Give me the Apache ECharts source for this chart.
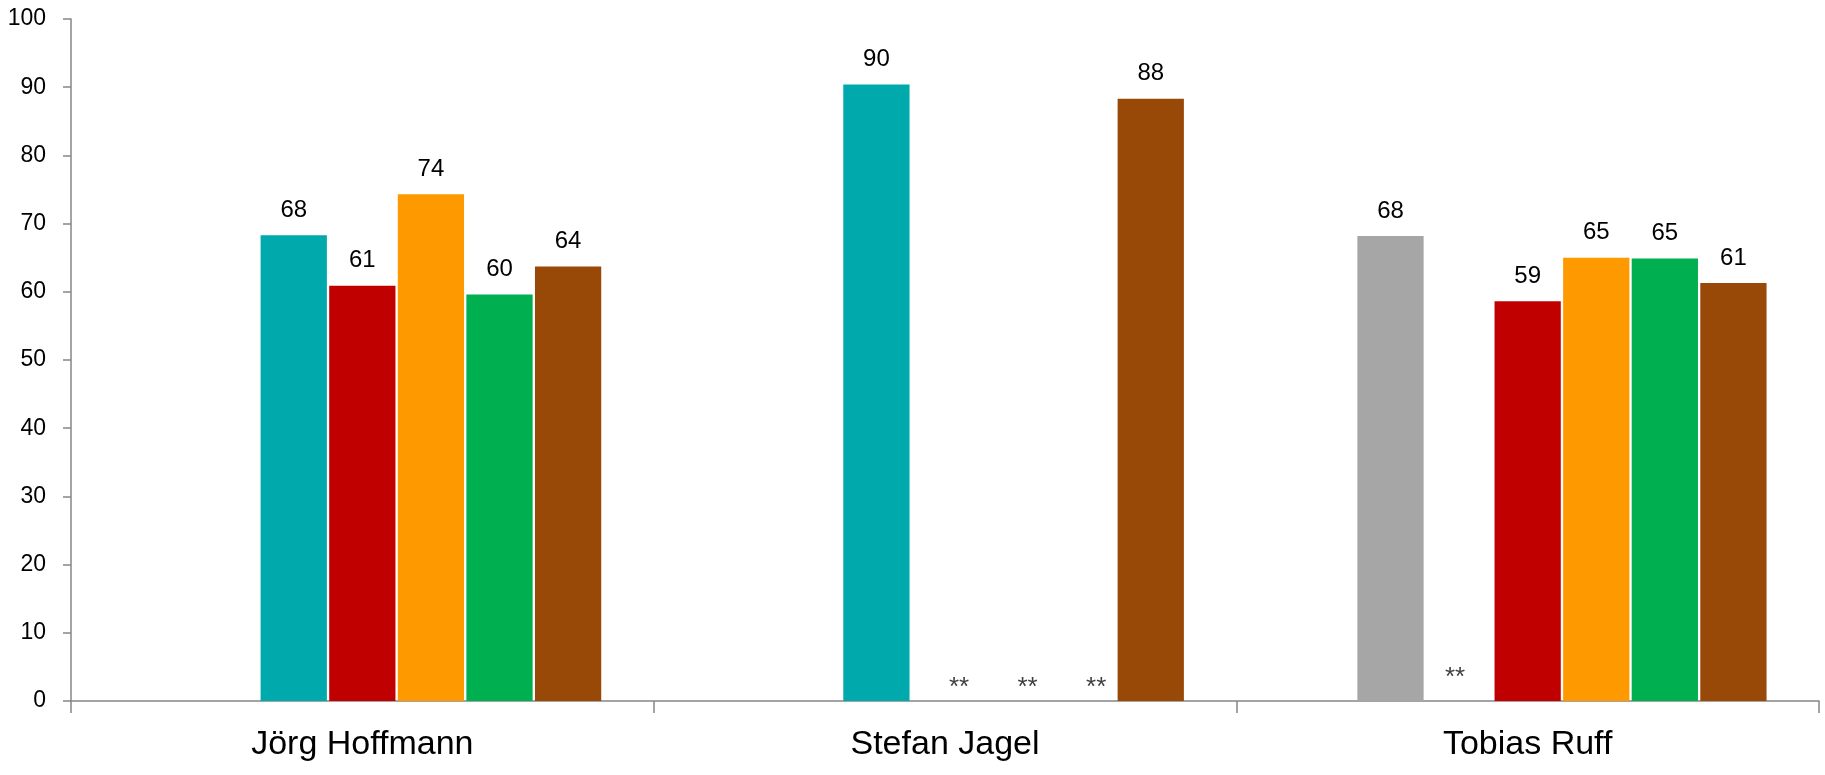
<!DOCTYPE html>
<html>
<head>
<meta charset="utf-8">
<script src="https://cdn.jsdelivr.net/npm/echarts@6/dist/echarts.min.js"></script>
<style>
  html, body { margin: 0; padding: 0; background: #ffffff; }
  #chart { width: 1825px; height: 775px; }
</style>
</head>
<body>
<div id="chart"></div>
<script>
// ---- data ----
const categories = ['Jörg Hoffmann', 'Stefan Jagel', 'Tobias Ruff'];
const yTicks = [0, 10, 20, 30, 40, 50, 60, 70, 80, 90, 100];

// seven series (the first one carries no values in any group)
const seriesNames = ['Serie 1', 'Serie 2', 'Serie 3', 'Serie 4', 'Serie 5', 'Serie 6', 'Serie 7'];
const serie1 = [null, null, null];
const serie2 = [null, null, 68.2];      // grey
const serie3 = [68.3, 90.4, null];      // teal
const serie4 = [60.9, null, 58.6];      // red
const serie5 = [74.3, null, 65.0];      // orange
const serie6 = [59.6, null, 64.9];      // green
const serie7 = [63.7, 88.3, 61.3];      // brown

// "**" markers for values that are not reported
const marks1 = ['', '', ''];
const marks2 = ['', '', ''];
const marks3 = ['', '', '**'];
const marks4 = ['', '**', ''];
const marks5 = ['', '**', ''];
const marks6 = ['', '**', ''];
const marks7 = ['', '', ''];

// ---- styling ----
const colors = ['#7f7f7f', '#A6A6A6', '#00A9AC', '#C00000', '#FF9900', '#00B050', '#984807'];
const numFont = "'Liberation Sans Narrow', 'Arial Narrow', 'Liberation Sans', Arial, sans-serif";
const catFont = "'Liberation Sans', Arial, sans-serif";
const markOffsets = [[14, 0], [14, 0], [-4, -10]]; // per category

const allValues = [serie1, serie2, serie3, serie4, serie5, serie6, serie7];
const allMarks = [marks1, marks2, marks3, marks4, marks5, marks6, marks7];

const series = allValues.map((vals, si) => ({
  name: seriesNames[si],
  type: 'bar',
  barGap: '3.5%',
  barCategoryGap: '18%',
  itemStyle: { color: colors[si] },
  label: {
    show: true,
    position: 'top',
    distance: 13,
    color: '#000000',
    fontFamily: numFont,
    fontSize: 24,
    formatter: p => (p.value == null ? '' : String(Math.round(p.value)))
  },
  data: vals.map((v, ci) => {
    const m = allMarks[si][ci];
    if (v == null && m) {
      return {
        value: 0,
        label: {
          formatter: m,
          distance: 0,
          offset: markOffsets[ci],
          color: '#404040',
          fontFamily: catFont,
          fontSize: 26
        }
      };
    }
    return v;
  })
}));

const chart = echarts.init(document.getElementById('chart'), null, { renderer: 'canvas' });
chart.setOption({
  animation: false,
  backgroundColor: '#ffffff',
  grid: { left: 71, right: 6, top: 19, bottom: 74, containLabel: false, outerBoundsMode: 'none' },
  xAxis: {
    type: 'category',
    data: categories,
    boundaryGap: true,
    axisLine: { show: true, lineStyle: { color: '#868686', width: 1.5 } },
    axisTick: { show: true, length: 12, interval: 0, lineStyle: { color: '#868686', width: 1.5 } },
    axisLabel: { color: '#000000', fontFamily: catFont, fontSize: 34, margin: 27, interval: 0 },
    splitLine: { show: false }
  },
  yAxis: {
    type: 'value',
    min: yTicks[0],
    max: yTicks[yTicks.length - 1],
    interval: yTicks[1] - yTicks[0],
    axisLine: { show: true, lineStyle: { color: '#868686', width: 1.5 } },
    axisTick: { show: true, length: 8, lineStyle: { color: '#868686', width: 1.5 } },
    axisLabel: { color: '#000000', fontFamily: numFont, fontSize: 23, margin: 25 },
    splitLine: { show: false }
  },
  series: series
});
</script>
</body>
</html>
